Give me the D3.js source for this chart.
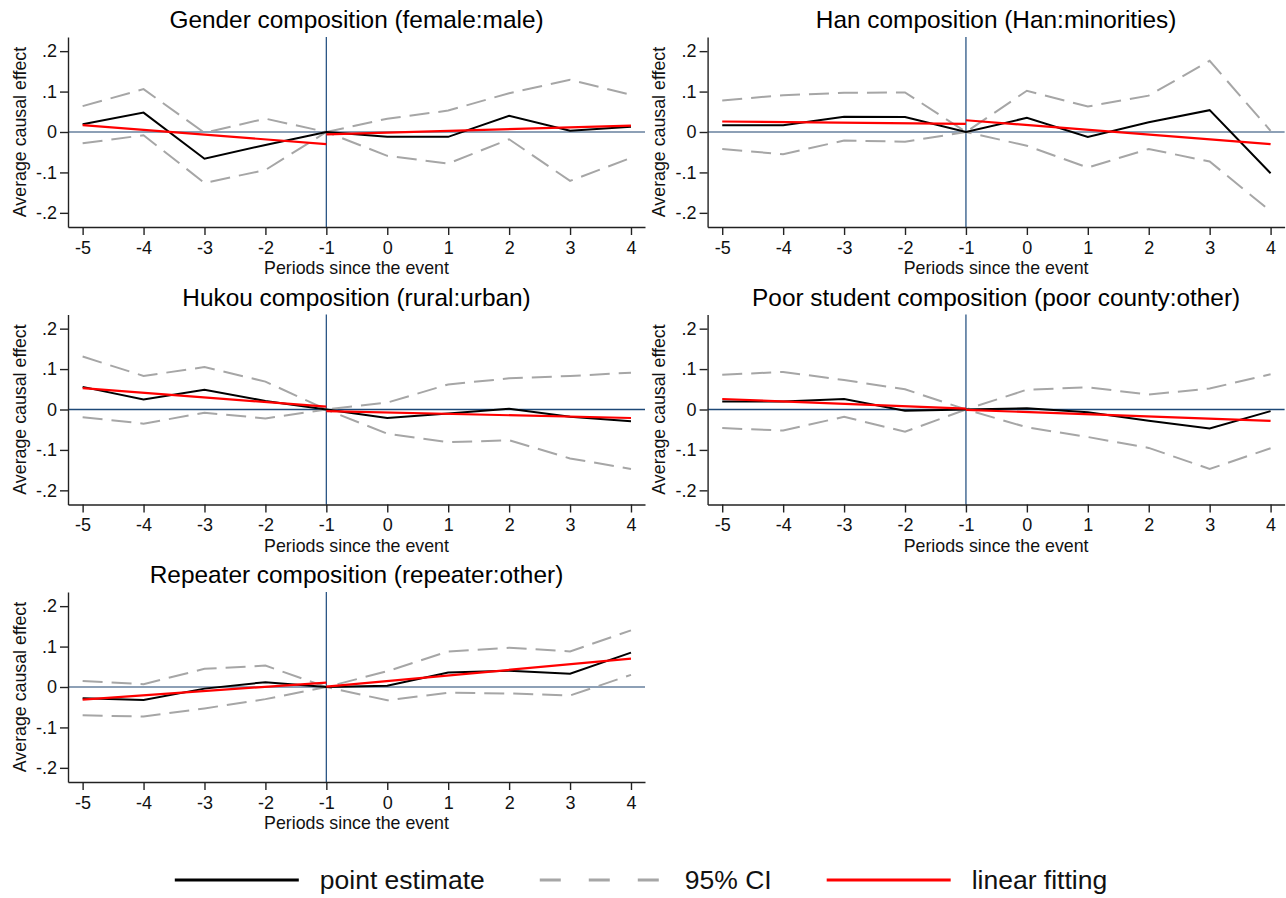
<!DOCTYPE html>
<html>
<head>
<meta charset="utf-8">
<script src="https://cdn.jsdelivr.net/npm/d3@7"></script>
<style>
  html, body { margin: 0; padding: 0; background: #fff; }
  svg { display: block; font-family: "Liberation Sans", Arial, Helvetica, sans-serif; }
</style>
</head>
<body>
<svg id="chart" width="1286" height="898"></svg>
<script>
// event-study panels, values
const periods = [-5, -4, -3, -2, -1, 0, 1, 2, 3, 4];

const panelTitles = [
    "Gender composition (female:male)",
    "Han composition (Han:minorities)",
    "Hukou composition (rural:urban)",
    "Poor student composition (poor county:other)",
    "Repeater composition (repeater:other)"
];

const estimate = [
    [0.019, 0.048, -0.066, -0.032, 0, -0.012, -0.012, 0.040, 0.003, 0.013],
    [0.017, 0.017, 0.038, 0.037, 0, 0.035, -0.012, 0.024, 0.054, -0.102],
    [0.056, 0.025, 0.049, 0.021, 0, -0.021, -0.010, 0.002, -0.018, -0.029],
    [0.020, 0.020, 0.026, -0.003, 0, 0.003, -0.007, -0.028, -0.047, -0.004],
    [-0.028, -0.032, -0.004, 0.012, 0, 0.003, 0.036, 0.040, 0.033, 0.085]
];

const ciUpper = [
    [0.064, 0.106, -0.002, 0.033, 0, 0.033, 0.053, 0.096, 0.129, 0.092],
    [0.078, 0.091, 0.097, 0.098, 0, 0.102, 0.063, 0.090, 0.176, 0.003],
    [0.131, 0.083, 0.105, 0.069, 0, 0.017, 0.062, 0.077, 0.083, 0.091],
    [0.086, 0.093, 0.073, 0.050, 0, 0.049, 0.055, 0.037, 0.052, 0.087],
    [0.015, 0.007, 0.045, 0.053, 0, 0.039, 0.088, 0.097, 0.088, 0.140]
];

const ciLower = [
    [-0.028, -0.008, -0.126, -0.094, 0, -0.059, -0.078, -0.018, -0.121, -0.064],
    [-0.042, -0.055, -0.021, -0.024, 0, -0.034, -0.088, -0.042, -0.073, -0.196],
    [-0.019, -0.035, -0.008, -0.022, 0, -0.060, -0.081, -0.076, -0.121, -0.147],
    [-0.046, -0.052, -0.018, -0.055, 0, -0.044, -0.068, -0.095, -0.147, -0.096],
    [-0.070, -0.073, -0.053, -0.030, 0, -0.033, -0.014, -0.016, -0.021, 0.030]
];

// linear fits, drawn separately before and after the event
const fitPreX = [-5, -1];
const fitPostX = [-1, 4];
const fitPre = [
    [0.017, -0.030],
    [0.026, 0.020],
    [0.053, 0.007],
    [0.026, 0.002],
    [-0.031, 0.011]
];
const fitPost = [
    [-0.006, 0.016],
    [0.029, -0.030],
    [-0.004, -0.021],
    [-0.001, -0.028],
    [0.001, 0.070]
];

const yTicks = [-0.2, -0.1, 0, 0.1, 0.2];
const yTickLabels = ["-.2", "-.1", "0", ".1", ".2"];
const legendLabels = ["point estimate", "95% CI", "linear fitting"];

const svg = d3.select("#chart");

const plot = { left: 68, right: 645, top: 37, bottom: 227 };
const colStep = 639.6, rowStep = 277.5;
const darkZero = [false, false, true, true, false]; // zero line renders darker in the middle row

const x = d3.scaleLinear().domain([-5.24, 4.23]).range([plot.left, plot.right]);
const y = d3.scaleLinear().domain([-0.235, 0.235]).range([plot.bottom, plot.top]);

const line = d3.line().x(d => x(d[0])).y(d => y(d[1]));

panelTitles.forEach((title, i) => {
    const g = svg.append("g")
        .attr("transform", `translate(${(i % 2) * colStep},${Math.floor(i / 2) * rowStep})`);

    g.append("text")
        .attr("x", (plot.left + plot.right) / 2)
        .attr("y", plot.top - 9)
        .attr("text-anchor", "middle")
        .attr("font-size", 24.4)
        .attr("fill", "#000")
        .text(title);

    // reference lines
    g.append("line")
        .attr("x1", plot.left).attr("x2", plot.right)
        .attr("y1", y(0)).attr("y2", y(0))
        .attr("stroke", darkZero[i] ? "#1d4877" : "#8da0b6")
        .attr("stroke-width", darkZero[i] ? 1.3 : 2);
    g.append("line")
        .attr("x1", x(-1)).attr("x2", x(-1))
        .attr("y1", plot.top).attr("y2", plot.bottom)
        .attr("stroke", "#2b5685")
        .attr("stroke-width", 1.3);

    [ciUpper[i], ciLower[i]].forEach(ci => {
        g.append("path")
            .attr("d", line(periods.map((p, k) => [p, ci[k]])))
            .attr("fill", "none")
            .attr("stroke", "#a6a6a6")
            .attr("stroke-width", 2)
            .attr("stroke-dasharray", "20,9");
    });

    g.append("path")
        .attr("d", line(periods.map((p, k) => [p, estimate[i][k]])))
        .attr("fill", "none")
        .attr("stroke", "#000")
        .attr("stroke-width", 2);

    [[fitPreX, fitPre[i]], [fitPostX, fitPost[i]]].forEach(([xs, ys]) => {
        g.append("path")
            .attr("d", line(xs.map((p, k) => [p, ys[k]])))
            .attr("fill", "none")
            .attr("stroke", "#ff0000")
            .attr("stroke-width", 2.2);
    });

    // axes
    const xAxis = g.append("g")
        .attr("transform", `translate(0,${plot.bottom})`)
        .call(d3.axisBottom(x).tickValues(periods).tickSize(8).tickSizeOuter(0).tickPadding(6)
            .tickFormat(d => String(d)));
    const yAxis = g.append("g")
        .attr("transform", `translate(${plot.left},0)`)
        .call(d3.axisLeft(y).tickValues(yTicks).tickSize(8).tickSizeOuter(0).tickPadding(3)
            .tickFormat((d, k) => yTickLabels[k]));

    [xAxis, yAxis].forEach(ax => {
        ax.select(".domain").attr("stroke", "#222").attr("stroke-width", 1.4);
        ax.selectAll(".tick line").attr("stroke", "#222").attr("stroke-width", 1.4);
        ax.selectAll(".tick text")
            .attr("font-size", 18)
            .attr("font-family", "Liberation Sans, Arial, sans-serif")
            .attr("fill", "#111");
    });

    g.append("text")
        .attr("x", (plot.left + plot.right) / 2)
        .attr("y", plot.bottom + 47)
        .attr("text-anchor", "middle")
        .attr("font-size", 17.8)
        .attr("fill", "#111")
        .text("Periods since the event");

    g.append("text")
        .attr("transform", `translate(25.5,${(plot.top + plot.bottom) / 2}) rotate(-90)`)
        .attr("text-anchor", "middle")
        .attr("font-size", 17.8)
        .attr("fill", "#111")
        .text("Average causal effect");
});

// legend
const legendStyles = [
    { stroke: "#000", dash: null },
    { stroke: "#a6a6a6", dash: "21,28" },
    { stroke: "#ff0000", dash: null }
];
const legend = svg.append("g").attr("transform", "translate(0,880)");
const lineLen = 124, textGap = 21, itemGap = 55;
const items = legend.selectAll("g")
    .data(legendLabels)
    .enter()
    .append("g");
items.append("line")
    .attr("x1", 0).attr("x2", lineLen)
    .attr("stroke", (d, k) => legendStyles[k].stroke)
    .attr("stroke-dasharray", (d, k) => legendStyles[k].dash)
    .attr("stroke-width", 3);
items.append("text")
    .attr("x", lineLen + textGap)
    .attr("dy", "0.35em")
    .attr("font-size", 26.5)
    .attr("fill", "#111")
    .text(d => d);

let widths = [];
items.each(function () { widths.push(lineLen + textGap + this.querySelector("text").getComputedTextLength()); });
const total = d3.sum(widths) + itemGap * (widths.length - 1);
let cursor = 641 - total / 2;
items.attr("transform", (d, k) => {
    const t = `translate(${cursor},0)`;
    cursor += widths[k] + itemGap;
    return t;
});
</script>
</body>
</html>
